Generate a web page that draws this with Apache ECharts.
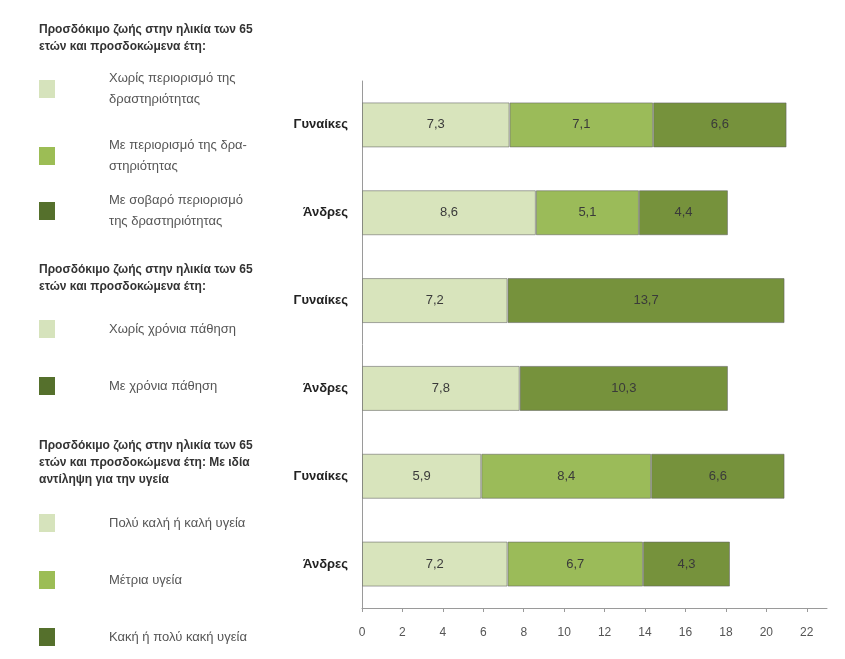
<!DOCTYPE html>
<html>
<head>
<meta charset="utf-8">
<script src="https://cdn.jsdelivr.net/npm/echarts@6/dist/echarts.min.js"></script>
<style>html,body{margin:0;padding:0;background:#fff}#c{width:845px;height:659px}</style>
</head>
<body>
<div id="c"></div>
<script>
const categories = ['Γυναίκες', 'Άνδρες', 'Γυναίκες', 'Άνδρες', 'Γυναίκες', 'Άνδρες'];
const xTicks = [0, 2, 4, 6, 8, 10, 12, 14, 16, 18, 20, 22];

const titles = [
  'Προσδόκιμο ζωής στην ηλικία των 65\nετών και προσδοκώμενα έτη:',
  'Προσδόκιμο ζωής στην ηλικία των 65\nετών και προσδοκώμενα έτη:',
  'Προσδόκιμο ζωής στην ηλικία των 65\nετών και προσδοκώμενα έτη: Με ιδία\nαντίληψη για την υγεία'
];

const seriesNames = [
  'Χωρίς περιορισμό της\nδραστηριότητας',
  'Με περιορισμό της δρα-\nστηριότητας',
  'Με σοβαρό περιορισμό\nτης δραστηριότητας',
  'Χωρίς χρόνια πάθηση',
  'Με χρόνια πάθηση',
  'Πολύ καλή ή καλή υγεία',
  'Μέτρια υγεία',
  'Κακή ή πολύ κακή υγεία'
];

const actNone     = [7.3, 8.6, null, null, null, null];
const actLimited  = [7.1, 5.1, null, null, null, null];
const actSevere   = [6.6, 4.4, null, null, null, null];
const chronicNone = [null, null, 7.2, 7.8, null, null];
const chronicWith = [null, null, 13.7, 10.3, null, null];
const healthGood  = [null, null, null, null, 5.9, 7.2];
const healthFair  = [null, null, null, null, 8.4, 6.7];
const healthBad   = [null, null, null, null, 6.6, 4.3];

const seriesData = [actNone, actLimited, actSevere, chronicNone, chronicWith, healthGood, healthFair, healthBad];

const LIGHT = '#d8e4bc', MID = '#9bbb59', DARK = '#76923c';
const seriesColors = [LIGHT, MID, DARK, LIGHT, DARK, LIGHT, MID, DARK];
const swatchColors = ['#d6e3bc', '#9cbd55', '#55702c', '#d6e3bc', '#55702c', '#d6e3bc', '#9cbd55', '#55702c'];

// layout (style only)
const legendCenters = [89, 156, 211, 329, 386, 523, 580, 637];
const titleTops = [21, 261, 437];
const FONT = '"Liberation Sans", Arial, sans-serif';

const chart = echarts.init(document.getElementById('c'), null, {renderer: 'canvas'});

const legends = seriesNames.map((n, i) => {
  const lines = n.split('\n').length;
  const h = lines * 21;
  return {
    data: [{name: n, itemStyle: {color: swatchColors[i], borderWidth: 0}}],
    orient: 'vertical',
    left: 39,
    top: legendCenters[i] - Math.max(h, 18) / 2,
    padding: 0,
    icon: 'rect',
    itemWidth: 16,
    itemHeight: 18,
    selectedMode: false,
    itemStyle: {borderWidth: 0},
    textStyle: {
      fontFamily: FONT,
      fontSize: 13,
      color: '#555',
      lineHeight: 21,
      padding: [0, 0, 0, 49]
    }
  };
});

const titleOpts = titles.map((t, i) => ({
  text: t,
  left: 39,
  top: titleTops[i],
  padding: 0,
  textStyle: {
    fontFamily: FONT,
    fontSize: 12,
    fontWeight: 'bold',
    color: '#333',
    lineHeight: 17
  }
}));

const series = seriesNames.map((n, i) => ({
  name: n,
  type: 'bar',
  stack: 'total',
  barWidth: 45,
  data: seriesData[i].map(v => v === null ? '-' : v),
  itemStyle: {
    color: seriesColors[i],
    borderColor: 'rgba(95,95,95,0.55)',
    borderWidth: 1
  },
  label: {
    show: true,
    position: 'inside',
    fontFamily: FONT,
    fontSize: 13,
    color: '#3a3a3a',
    formatter: p => String(p.value).replace('.', ',')
  },
  emphasis: {disabled: true}
}));

chart.setOption({
  animation: false,
  backgroundColor: '#fff',
  title: titleOpts,
  legend: legends,
  grid: {left: 362, right: 18, top: 81, bottom: 51, containLabel: false},
  xAxis: {
    type: 'value',
    min: 0,
    max: 23,
    interval: 2,
    axisLine: {show: true, lineStyle: {color: '#9a9a9a', width: 1}},
    axisTick: {show: true, length: 4, lineStyle: {color: '#9a9a9a'}, customValues: xTicks},
    axisLabel: {fontFamily: FONT, fontSize: 12, color: '#555', margin: 19, customValues: xTicks},
    splitLine: {show: false}
  },
  yAxis: {
    type: 'category',
    inverse: true,
    data: categories,
    axisLine: {show: true, lineStyle: {color: '#9a9a9a', width: 1}},
    axisTick: {show: false},
    axisLabel: {fontFamily: FONT, fontSize: 13, fontWeight: 'bold', color: '#222', margin: 14}
  },
  series: series
});
</script>
</body>
</html>
